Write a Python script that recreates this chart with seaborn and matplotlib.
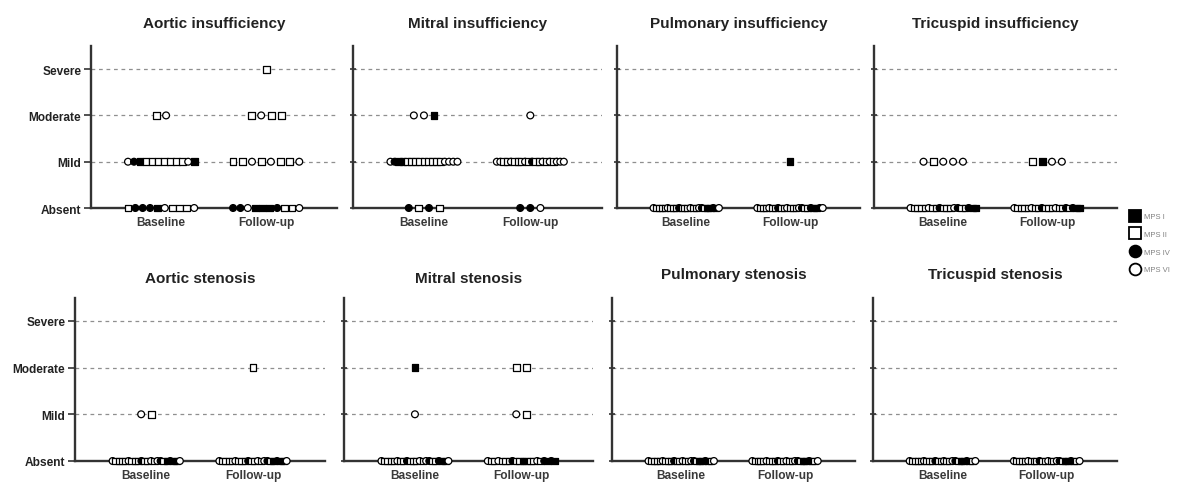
import numpy as np
import pandas as pd
import matplotlib
matplotlib.use("Agg")
import matplotlib.pyplot as plt
import seaborn as sns
from matplotlib.lines import Line2D

# ---------------- data ----------------
SEVERITY = ["Absent", "Mild", "Moderate", "Severe"]
TIMEPOINTS = ["Baseline", "Follow-up"]
MPS_TYPES = ["MPS I", "MPS II", "MPS IV", "MPS VI"]
CODE = {1: "MPS I", 2: "MPS II", 4: "MPS IV", 6: "MPS VI"}

# patients per (timepoint, severity), listed by MPS type code in plotting order
aortic_insufficiency = {
    ("Baseline", "Absent"): [2, 4, 4, 4, 1, 6, 2, 2, 2, 6],
    ("Baseline", "Mild"): [6, 4, 1, 2, 2, 2, 2, 2, 2, 2, 6, 1],
    ("Baseline", "Moderate"): [2, 6],
    ("Follow-up", "Absent"): [4, 4, 6, 1, 1, 1, 4, 2, 2, 6],
    ("Follow-up", "Mild"): [2, 2, 6, 2, 6, 2, 2, 6],
    ("Follow-up", "Moderate"): [2, 6, 2, 2],
    ("Follow-up", "Severe"): [2],
}
mitral_insufficiency = {
    ("Baseline", "Absent"): [4, 2, 4, 2],
    ("Baseline", "Mild"): [6, 4, 1, 1, 2, 2, 2, 2, 2, 2, 2, 2, 2, 6, 6, 6, 6],
    ("Baseline", "Moderate"): [6, 6, 1],
    ("Follow-up", "Absent"): [4, 4, 6],
    ("Follow-up", "Mild"): [6, 6, 2, 2, 6, 2, 2, 2, 6, 2, 4, 2, 2, 6, 2, 6, 2, 6, 6, 6],
    ("Follow-up", "Moderate"): [6],
}
pulmonary_insufficiency = {
    ("Baseline", "Absent"): [6, 2, 2, 2, 2, 6, 2, 2, 2, 4, 2, 2, 2, 6, 2, 2, 6, 4, 2, 1, 1, 4, 1, 6],
    ("Follow-up", "Absent"): [6, 2, 2, 2, 6, 2, 2, 4, 2, 2, 6, 2, 2, 2, 6, 4, 2, 2, 4, 1, 1, 4, 6],
    ("Follow-up", "Mild"): [1],
}
tricuspid_insufficiency = {
    ("Baseline", "Absent"): [6, 2, 2, 2, 2, 6, 2, 2, 4, 2, 2, 2, 6, 4, 2, 2, 4, 1, 1],
    ("Baseline", "Mild"): [6, 2, 6, 6, 6],
    ("Follow-up", "Absent"): [6, 2, 2, 2, 2, 6, 2, 2, 4, 2, 2, 2, 6, 2, 2, 4, 2, 4, 1, 1],
    ("Follow-up", "Mild"): [2, 1, 6, 6],
}
aortic_stenosis = {
    ("Baseline", "Absent"): [6, 2, 2, 2, 2, 6, 2, 2, 2, 4, 2, 2, 6, 2, 6, 4, 2, 1, 4, 1, 1, 6],
    ("Baseline", "Mild"): [6, 2],
    ("Follow-up", "Absent"): [6, 2, 2, 2, 2, 6, 2, 2, 2, 4, 2, 2, 6, 2, 6, 4, 2, 1, 4, 1, 1, 6],
    ("Follow-up", "Moderate"): [2],
}
mitral_stenosis = {
    ("Baseline", "Absent"): [6, 2, 2, 2, 2, 6, 2, 2, 4, 2, 2, 2, 6, 2, 6, 4, 2, 2, 4, 1, 1, 6],
    ("Baseline", "Mild"): [6],
    ("Baseline", "Moderate"): [1],
    ("Follow-up", "Absent"): [6, 2, 2, 6, 2, 2, 2, 4, 2, 2, 1, 1, 2, 2, 6, 2, 4, 1, 4, 1],
    ("Follow-up", "Mild"): [6, 2],
    ("Follow-up", "Moderate"): [2, 2],
}
pulmonary_stenosis = {
    ("Baseline", "Absent"): [6, 2, 2, 2, 2, 6, 2, 2, 2, 4, 2, 2, 6, 2, 2, 6, 4, 2, 1, 1, 4, 1, 2, 6],
    ("Follow-up", "Absent"): [6, 2, 2, 2, 2, 6, 2, 2, 2, 4, 2, 2, 6, 2, 2, 6, 4, 2, 1, 1, 4, 1, 2, 6],
}
tricuspid_stenosis = {
    ("Baseline", "Absent"): [6, 2, 2, 2, 2, 6, 2, 2, 2, 4, 2, 2, 6, 2, 2, 6, 4, 2, 1, 1, 4, 1, 2, 6],
    ("Follow-up", "Absent"): [6, 2, 2, 2, 2, 6, 2, 2, 2, 4, 2, 2, 6, 2, 2, 6, 4, 2, 1, 1, 4, 1, 2, 6],
}

PANELS = [
    ("Aortic insufficiency", aortic_insufficiency),
    ("Mitral insufficiency", mitral_insufficiency),
    ("Pulmonary insufficiency", pulmonary_insufficiency),
    ("Tricuspid insufficiency", tricuspid_insufficiency),
    ("Aortic stenosis", aortic_stenosis),
    ("Mitral stenosis", mitral_stenosis),
    ("Pulmonary stenosis", pulmonary_stenosis),
    ("Tricuspid stenosis", tricuspid_stenosis),
]

# ---------------- style ----------------
sns.set_theme(style="white")
plt.rcParams["font.family"] = ["Liberation Sans", "DejaVu Sans"]

PALETTE = {"MPS I": "black", "MPS II": "white", "MPS IV": "black", "MPS VI": "white"}
MARKERS = {"MPS I": "s", "MPS II": "s", "MPS IV": "o", "MPS VI": "o"}

MAX_STEP = 0.095     # horizontal spacing of adjacent points (axis units)
MAX_SPREAD = 0.63    # widest a group may get

rows = []
for title, groups in PANELS:
    for (tp, sev), codes in groups.items():
        n = len(codes)
        step = min(MAX_STEP, MAX_SPREAD / (n - 1)) if n > 1 else 0.0
        for i, c in enumerate(codes):
            rows.append({
                "panel": title,
                "time": tp,
                "severity": sev,
                "mps": CODE[c],
                "x": TIMEPOINTS.index(tp) + (i - (n - 1) / 2) * step,
                "y": SEVERITY.index(sev),
            })
df = pd.DataFrame(rows)

W, H = 1191, 485
fig = plt.figure(figsize=(W / 100, H / 100), dpi=100)

# axes boxes in pixels: (left, width)
row_boxes = [
    [(91, 246), (353, 249), (617, 243), (874, 243)],
    [(75, 250), (344, 249), (612, 243), (873, 244)],
]
row_bottom = [209, 462]
row_height = [162, 163.5]
title_pads = [[14, 14, 14, 14], [11.5, 11.5, 14, 14]]

text_color = "#222222"
for k, (title, groups) in enumerate(PANELS):
    r, c = divmod(k, 4)
    left, width = row_boxes[r][c]
    ax = fig.add_axes([left / W, 1 - row_bottom[r] / H, width / W, row_height[r] / H])
    sub = df[df["panel"] == title]
    for yv in range(1, len(SEVERITY)):
        ax.axhline(yv, color="#8f8f8f", lw=0.9, ls=(0, (3.0, 3.0)), zorder=0)
    sns.scatterplot(
        data=sub, x="x", y="y", hue="mps", style="mps",
        hue_order=MPS_TYPES, style_order=MPS_TYPES,
        palette=PALETTE, markers=MARKERS, s=24,
        edgecolor="black", linewidth=0.9,
        clip_on=False, zorder=4, legend=False, ax=ax,
    )
    ax.set_xlim(-0.667, 1.674)
    ax.set_ylim(0, 3.5)
    ax.set_xlabel("")
    ax.set_ylabel("")
    ax.set_xticks([0, 1])
    ax.set_xticklabels(TIMEPOINTS, fontsize=8.6, fontweight="bold", color="#3a3a3a")
    ax.set_yticks(range(len(SEVERITY)))
    if c == 0:
        ax.set_yticklabels(SEVERITY, fontsize=8.6, fontweight="bold", color=text_color)
        ax.tick_params(axis="y", direction="out", length=5, width=1.2, pad=2, color="#333333", left=True)
    else:
        ax.set_yticklabels([])
        ax.tick_params(axis="y", direction="inout", length=5, width=1.2, color="#333333", left=True)
    ax.tick_params(axis="x", length=0, pad=5.5)
    sns.despine(ax=ax)
    for side in ("left", "bottom"):
        ax.spines[side].set_color("#333333")
        ax.spines[side].set_linewidth(1.7)
    ax.set_title(title, fontsize=11, fontweight="bold", color=text_color, pad=title_pads[r][c])

handles = [
    Line2D([], [], ls="", marker=MARKERS[m], markersize=8.5,
           markerfacecolor=PALETTE[m], markeredgecolor="black", markeredgewidth=1.3)
    for m in MPS_TYPES
]
fig.legend(handles, MPS_TYPES, loc="upper left",
           bbox_to_anchor=(1129 / W, 1 - 211 / H), frameon=False,
           fontsize=5.5, labelcolor="#808080", handlelength=0.9,
           handletextpad=0.6, labelspacing=1.35, borderaxespad=0)

fig.savefig("out.png", dpi=100)
